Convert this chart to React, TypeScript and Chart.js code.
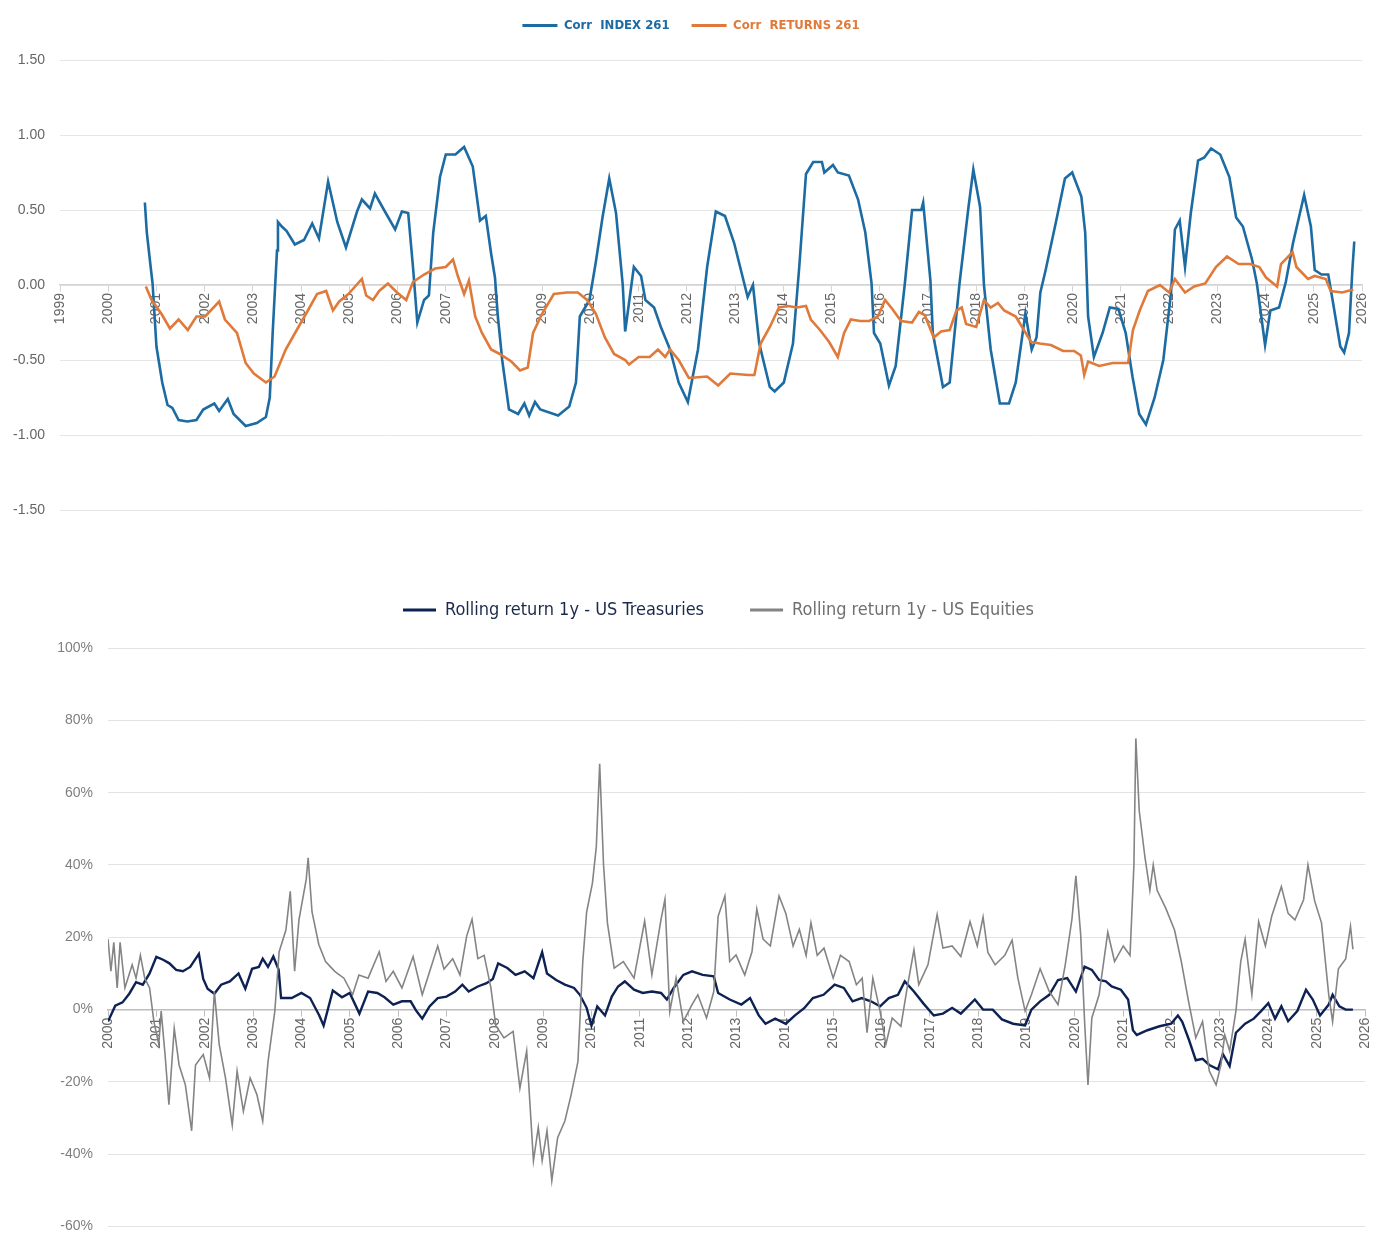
import React, { useEffect, useRef } from "react";
import { Chart, registerables } from "chart.js";
Chart.register(...registerables);

// ---------- Top chart: rolling 261-day correlations ----------
const corrIndexYears = [
  2000.76, 2000.8, 2000.88, 2000.92, 2001.0, 2001.12, 2001.23, 2001.33, 2001.46, 2001.64, 2001.83, 2001.97,
  2002.2, 2002.3, 2002.48, 2002.6, 2002.85, 2003.08, 2003.27, 2003.35, 2003.41, 2003.5, 2003.52, 2003.6,
  2003.7, 2003.87, 2004.06, 2004.23, 2004.37, 2004.56, 2004.75, 2004.93, 2005.16, 2005.26, 2005.43, 2005.53,
  2005.72, 2005.95, 2006.09, 2006.22, 2006.32, 2006.41, 2006.55, 2006.65, 2006.74, 2006.88, 2007.0, 2007.2,
  2007.38, 2007.56, 2007.71, 2007.83, 2007.94, 2008.02, 2008.08, 2008.17, 2008.31, 2008.5, 2008.63, 2008.73,
  2008.85, 2008.96, 2009.33, 2009.56, 2009.7, 2009.78, 2009.98, 2010.11, 2010.25, 2010.39, 2010.53, 2010.67,
  2010.72, 2010.9, 2011.05, 2011.14, 2011.32, 2011.46, 2011.65, 2011.83, 2012.02, 2012.23, 2012.42, 2012.6,
  2012.79, 2012.98, 2013.26, 2013.37, 2013.5, 2013.72, 2013.82, 2014.01, 2014.2, 2014.33, 2014.47, 2014.62,
  2014.8, 2014.85, 2015.03, 2015.13, 2015.36, 2015.55, 2015.7, 2015.83, 2015.88, 2016.01, 2016.19, 2016.33,
  2016.52, 2016.67, 2016.86, 2016.9, 2017.05, 2017.1, 2017.31, 2017.45, 2017.65, 2017.84, 2017.94, 2018.08,
  2018.16, 2018.3, 2018.49, 2018.68, 2018.82, 2019.02, 2019.15, 2019.25, 2019.33, 2019.44, 2019.66, 2019.84,
  2019.99, 2020.18, 2020.26, 2020.32, 2020.44, 2020.62, 2020.77, 2020.95, 2021.1, 2021.24, 2021.38, 2021.52,
  2021.7, 2021.88, 2022.04, 2022.12, 2022.22, 2022.33, 2022.45, 2022.6, 2022.73, 2022.87, 2023.06, 2023.25,
  2023.39, 2023.53, 2023.72, 2023.82, 2023.99, 2024.1, 2024.28, 2024.42, 2024.57, 2024.8, 2024.94, 2025.02,
  2025.16, 2025.3, 2025.39, 2025.55, 2025.63, 2025.73, 2025.8, 2025.84,
];
const corrIndexValues = [
  0.55, 0.35, 0.12, 0.01, -0.41, -0.65, -0.8, -0.82, -0.9, -0.91, -0.9, -0.83,
  -0.79, -0.84, -0.76, -0.86, -0.94, -0.92, -0.88, -0.75, -0.32, 0.23, 0.42, 0.39,
  0.36, 0.27, 0.3, 0.41, 0.31, 0.69, 0.42, 0.25, 0.49, 0.57, 0.51, 0.61,
  0.5, 0.37, 0.49, 0.48, 0.12, -0.25, -0.1, -0.07, 0.35, 0.72, 0.87, 0.87,
  0.92, 0.79, 0.43, 0.46, 0.21, 0.05, -0.21, -0.5, -0.83, -0.86, -0.79, -0.87,
  -0.78, -0.83, -0.87, -0.81, -0.65, -0.21, -0.1, 0.15, 0.45, 0.71, 0.48, 0.0,
  -0.31, 0.12, 0.06, -0.1, -0.15, -0.28, -0.43, -0.65, -0.78, -0.43, 0.12, 0.49,
  0.46, 0.28, -0.08, 0.0, -0.39, -0.68, -0.71, -0.65, -0.39, 0.12, 0.74, 0.82,
  0.82, 0.75, 0.8, 0.75, 0.73, 0.57, 0.35, 0.01, -0.32, -0.39, -0.67, -0.54,
  0.01, 0.5, 0.5, 0.55, 0.03, -0.32, -0.68, -0.65, 0.0, 0.52, 0.77, 0.52,
  0.0, -0.43, -0.79, -0.79, -0.65, -0.19, -0.43, -0.35, -0.05, 0.1, 0.43, 0.71,
  0.75, 0.59, 0.35, -0.21, -0.48, -0.32, -0.15, -0.16, -0.32, -0.61, -0.86, -0.93,
  -0.75, -0.5, -0.05, 0.37, 0.43, 0.12, 0.48, 0.83, 0.85, 0.91, 0.87, 0.72,
  0.45, 0.39, 0.17, 0.01, -0.4, -0.17, -0.15, 0.02, 0.28, 0.6, 0.39, 0.1,
  0.07, 0.07, -0.1, -0.41, -0.45, -0.32, 0.1, 0.29,
];

const corrReturnsYears = [
  2000.78, 2000.9, 2001.1, 2001.28, 2001.46, 2001.65, 2001.83, 2002.01, 2002.3, 2002.42, 2002.67, 2002.85,
  2003.02, 2003.27, 2003.45, 2003.68, 2003.91, 2004.14, 2004.33, 2004.52, 2004.66, 2004.79, 2004.98, 2005.12,
  2005.26, 2005.35, 2005.49, 2005.62, 2005.8, 2005.99, 2006.18, 2006.32, 2006.55, 2006.78, 2007.0, 2007.15,
  2007.25, 2007.38, 2007.48, 2007.61, 2007.75, 2007.94, 2008.12, 2008.36, 2008.54, 2008.7, 2008.81, 2009.0,
  2009.24, 2009.51, 2009.74, 2009.93, 2010.11, 2010.3, 2010.49, 2010.72, 2010.8, 2011.0, 2011.23, 2011.4,
  2011.55, 2011.65, 2011.83, 2012.04, 2012.42, 2012.65, 2012.9, 2013.27, 2013.4, 2013.53, 2013.72, 2013.91,
  2014.1, 2014.28, 2014.47, 2014.57, 2014.76, 2014.95, 2015.13, 2015.26, 2015.4, 2015.59, 2015.78, 2015.96,
  2016.11, 2016.26, 2016.44, 2016.67, 2016.81, 2016.93, 2017.12, 2017.27, 2017.45, 2017.59, 2017.7, 2017.79,
  2018.0, 2018.16, 2018.3, 2018.45, 2018.58, 2018.82, 2018.95, 2019.14, 2019.32, 2019.55, 2019.8, 2020.03,
  2020.17, 2020.24, 2020.32, 2020.55, 2020.83, 2021.15, 2021.25, 2021.39, 2021.56, 2021.81, 2022.0, 2022.12,
  2022.33, 2022.52, 2022.75, 2022.97, 2023.2, 2023.44, 2023.68, 2023.87, 2024.01, 2024.24, 2024.32, 2024.56,
  2024.64, 2024.88, 2025.02, 2025.25, 2025.35, 2025.59, 2025.82,
];
const corrReturnsValues = [
  -0.01, -0.1, -0.19, -0.29, -0.23, -0.3, -0.21, -0.21, -0.11, -0.23, -0.32, -0.52,
  -0.59, -0.65, -0.61, -0.43, -0.3, -0.17, -0.06, -0.04, -0.17, -0.11, -0.06, -0.01,
  0.04, -0.07, -0.1, -0.04, 0.01, -0.05, -0.1, 0.02, 0.07, 0.11, 0.12, 0.17,
  0.06, -0.06, 0.03, -0.21, -0.32, -0.43, -0.46, -0.51, -0.57, -0.55, -0.32, -0.19,
  -0.06, -0.05, -0.05, -0.1, -0.19, -0.35, -0.46, -0.5, -0.53, -0.48, -0.48, -0.43,
  -0.48, -0.43, -0.5, -0.62, -0.61, -0.67, -0.59, -0.6, -0.6, -0.39, -0.28, -0.15,
  -0.14, -0.15, -0.14, -0.23, -0.3, -0.38, -0.48, -0.32, -0.23, -0.24, -0.24, -0.21,
  -0.1, -0.16, -0.24, -0.25, -0.18, -0.2, -0.35, -0.31, -0.3, -0.17, -0.15, -0.26,
  -0.28, -0.1, -0.15, -0.12, -0.17, -0.21, -0.28, -0.38, -0.39, -0.4, -0.44, -0.44,
  -0.47, -0.6, -0.51, -0.54, -0.52, -0.52, -0.3, -0.17, -0.04, 0.0, -0.05, 0.04,
  -0.05, -0.01, 0.01, 0.12, 0.19, 0.14, 0.14, 0.12, 0.05, -0.01, 0.14, 0.22,
  0.12, 0.04, 0.06, 0.04, -0.04, -0.05, -0.03,
];

// ---------- Bottom chart: 1y rolling returns (%) ----------
const treasuryYears = [
  2000.0, 2000.15, 2000.3, 2000.44, 2000.58, 2000.72, 2000.86, 2001.0, 2001.14, 2001.27, 2001.41, 2001.55,
  2001.7, 2001.88, 2001.97, 2002.06, 2002.2, 2002.34, 2002.52, 2002.7, 2002.84, 2002.98, 2003.12, 2003.2,
  2003.31, 2003.42, 2003.53, 2003.58, 2003.8, 2004.0, 2004.18, 2004.37, 2004.46, 2004.65, 2004.84, 2005.0,
  2005.2, 2005.38, 2005.57, 2005.72, 2005.9, 2006.08, 2006.26, 2006.38, 2006.5, 2006.65, 2006.82, 2007.0,
  2007.18, 2007.33, 2007.46, 2007.65, 2007.83, 2007.96, 2008.07, 2008.26, 2008.43, 2008.62, 2008.8, 2008.98,
  2009.08, 2009.27, 2009.45, 2009.64, 2009.76, 2009.9, 2010.0, 2010.12, 2010.28, 2010.42, 2010.55, 2010.69,
  2010.88, 2011.06, 2011.25, 2011.44, 2011.56, 2011.7, 2011.9, 2012.08, 2012.3, 2012.53, 2012.62, 2012.86,
  2013.1, 2013.28, 2013.46, 2013.6, 2013.8, 2014.02, 2014.21, 2014.4, 2014.58, 2014.8, 2015.03, 2015.22,
  2015.4, 2015.59, 2015.78, 2015.97, 2016.15, 2016.34, 2016.48, 2016.67, 2016.86, 2017.08, 2017.27, 2017.46,
  2017.64, 2017.93, 2018.1, 2018.3, 2018.49, 2018.72, 2018.97, 2019.1, 2019.28, 2019.47, 2019.65, 2019.84,
  2020.02, 2020.2, 2020.35, 2020.5, 2020.64, 2020.76, 2020.95, 2021.1, 2021.2, 2021.28, 2021.5, 2021.75,
  2021.99, 2022.13, 2022.22, 2022.36, 2022.5, 2022.64, 2022.78, 2022.96, 2023.06, 2023.2, 2023.33, 2023.52,
  2023.7, 2023.85, 2024.0, 2024.14, 2024.27, 2024.41, 2024.6, 2024.78, 2024.92, 2025.07, 2025.25, 2025.33,
  2025.47, 2025.6, 2025.75,
];
const treasuryValues = [
  -3.3, 1.1, 2.0, 4.4, 7.6, 6.9, 10.0, 14.6, 13.8, 12.8, 11.0, 10.6,
  11.8, 15.4, 8.5, 5.8, 4.4, 6.9, 7.8, 10.0, 5.8, 11.3, 11.8, 14.1,
  11.8, 14.7, 11.0, 3.2, 3.2, 4.6, 3.2, -1.6, -4.4, 5.3, 3.4, 4.6,
  -1.1, 5.0, 4.6, 3.4, 1.4, 2.3, 2.3, -0.4, -2.5, 0.9, 3.2, 3.6,
  5.0, 6.9, 5.0, 6.4, 7.3, 8.5, 12.8, 11.5, 9.6, 10.6, 8.7, 15.9,
  10.0, 8.2, 6.9, 6.0, 4.1, 0.5, -4.4, 0.9, -1.6, 3.6, 6.4, 7.8,
  5.5, 4.6, 5.0, 4.6, 2.8, 6.0, 9.6, 10.6, 9.6, 9.2, 4.6, 2.8,
  1.4, 3.2, -1.6, -3.9, -2.5, -3.9, -1.6, 0.4, 3.2, 4.1, 6.9, 6.0,
  2.3, 3.2, 2.3, 0.9, 3.2, 4.1, 7.8, 5.0, 1.8, -1.6, -1.1, 0.5,
  -1.1, 2.8, 0.0, 0.0, -2.7, -3.9, -4.4, 0.0, 2.3, 4.1, 8.2, 8.7,
  5.0, 11.9, 11.0, 8.2, 7.8, 6.4, 5.5, 2.8, -5.7, -7.0, -5.7, -4.6,
  -3.9, -1.6, -3.4, -8.4, -14.0, -13.6, -15.3, -16.5, -12.3, -15.6, -6.4, -3.9,
  -2.5, -0.4, 1.8, -2.5, 0.9, -3.2, -0.4, 5.5, 2.8, -1.6, 1.4, 4.1,
  0.9, 0.0, 0.0,
];

const equityYears = [
  2000.0, 2000.06, 2000.12, 2000.19, 2000.25, 2000.35, 2000.5, 2000.58, 2000.67, 2000.76, 2000.86, 2000.95,
  2001.05, 2001.1, 2001.18, 2001.26, 2001.37, 2001.47, 2001.6, 2001.73, 2001.81, 2001.97, 2002.1, 2002.2,
  2002.3, 2002.43, 2002.57, 2002.67, 2002.8, 2002.94, 2003.08, 2003.2, 2003.31, 2003.45, 2003.54, 2003.68,
  2003.77, 2003.86, 2003.95, 2004.1, 2004.14, 2004.22, 2004.36, 2004.5, 2004.69, 2004.88, 2005.06, 2005.19,
  2005.38, 2005.61, 2005.75, 2005.9, 2006.08, 2006.31, 2006.5, 2006.63, 2006.82, 2006.95, 2007.13, 2007.28,
  2007.42, 2007.53, 2007.65, 2007.78, 2007.92, 2008.02, 2008.19, 2008.38, 2008.52, 2008.66, 2008.8, 2008.9,
  2008.98, 2009.08, 2009.18, 2009.3, 2009.45, 2009.58, 2009.72, 2009.82, 2009.9, 2010.02, 2010.1, 2010.17,
  2010.25, 2010.33, 2010.47, 2010.66, 2010.88, 2011.1, 2011.25, 2011.44, 2011.52, 2011.62, 2011.75, 2011.9,
  2012.08, 2012.2, 2012.38, 2012.53, 2012.62, 2012.76, 2012.86, 2012.99, 2013.17, 2013.32, 2013.42, 2013.55,
  2013.7, 2013.88, 2014.02, 2014.17, 2014.3, 2014.44, 2014.54, 2014.67, 2014.81, 2015.0, 2015.15, 2015.33,
  2015.48, 2015.6, 2015.7, 2015.82, 2015.97, 2016.09, 2016.22, 2016.4, 2016.53, 2016.67, 2016.77, 2016.96,
  2017.15, 2017.27, 2017.46, 2017.64, 2017.83, 2017.98, 2018.1, 2018.2, 2018.35, 2018.55, 2018.7, 2018.82,
  2018.97, 2019.1, 2019.28, 2019.47, 2019.65, 2019.8, 2019.94, 2020.02, 2020.12, 2020.2, 2020.27, 2020.35,
  2020.5, 2020.68, 2020.82, 2021.0, 2021.14, 2021.22, 2021.26, 2021.33, 2021.45, 2021.55, 2021.62, 2021.7,
  2021.88, 2022.06, 2022.2, 2022.35, 2022.5, 2022.64, 2022.78, 2022.92, 2023.02, 2023.1, 2023.2, 2023.33,
  2023.43, 2023.52, 2023.66, 2023.8, 2023.94, 2024.07, 2024.27, 2024.41, 2024.55, 2024.73, 2024.82, 2024.96,
  2025.1, 2025.25, 2025.33, 2025.45, 2025.6, 2025.7, 2025.75,
];
const equityValues = [
  19.5, 10.6, 18.6, 6.0, 18.6, 6.0, 12.4, 8.7, 15.0, 8.7, 6.0, -3.3,
  -9.6, -0.4, -12.4, -26.3, -5.2, -15.3, -20.8, -33.5, -15.3, -12.4, -18.9, 5.0,
  -9.6, -18.9, -31.9, -17.0, -28.1, -18.9, -23.5, -30.8, -14.4, -0.5, 16.0, 22.0,
  32.7, 10.6, 24.8, 36.0, 42.0, 27.0, 18.0, 13.3, 10.6, 8.7, 4.1, 9.6,
  8.7, 16.0, 7.8, 10.6, 6.0, 14.7, 4.1, 9.6, 17.6, 11.2, 14.1, 9.6,
  20.4, 25.0, 14.1, 15.0, 6.0, -4.4, -7.8, -6.0, -21.7, -11.4, -41.8, -32.6,
  -41.8, -33.5, -47.3, -35.4, -30.8, -23.5, -14.4, 13.2, 27.0, 35.0, 45.0, 68.0,
  40.0, 24.0, 11.5, 13.3, 8.7, 24.5, 9.6, 25.0, 30.5, -0.5, 8.7, -3.3,
  1.4, 4.1, -2.3, 5.0, 25.8, 31.4, 13.3, 15.1, 9.6, 16.0, 27.8, 19.5,
  17.6, 31.4, 26.6, 17.6, 22.2, 15.0, 24.0, 15.0, 17.0, 8.7, 15.0, 13.3,
  6.9, 8.7, -6.4, 8.7, -0.5, -9.6, -2.3, -4.6, 6.0, 16.5, 6.9, 12.4,
  26.3, 17.0, 17.6, 14.7, 24.3, 17.6, 25.6, 15.8, 12.4, 15.0, 19.2, 8.7,
  -0.4, 4.1, 11.3, 5.0, 1.4, 12.4, 25.2, 37.0, 20.6, -3.3, -20.8, -2.3,
  4.1, 21.4, 13.3, 17.6, 15.0, 40.0, 75.0, 55.0, 42.0, 33.0, 40.0, 33.0,
  28.0, 22.0, 13.3, 2.3, -7.8, -3.3, -17.0, -20.8, -15.3, -7.0, -11.4, -0.4,
  13.3, 19.5, 4.1, 24.3, 17.6, 25.8, 34.0, 26.6, 24.8, 30.4, 40.0, 30.0,
  24.0, 4.1, -3.3, 11.3, 14.0, 23.0, 16.7,
];

const topLabels = ["Corr  INDEX 261", "Corr  RETURNS 261"];
const bottomLabels = ["Rolling return 1y - US Treasuries", "Rolling return 1y - US Equities"];

const BLUE = "#1c6ba3";
const ORANGE = "#e07a3a";
const NAVY = "#0d2253";
const GRAY = "#848484";
const TICK = "#666666";

function toPoints(xs: number[], ys: number[]) {
  return xs.map((x, i) => ({ x, y: ys[i] }));
}

// Fixes the legend block height and nudges it after layout
function legendTuner(h: number, dx: number, dy: number) {
  return {
    id: "legendTuner",
    beforeInit(chart: any) {
      const orig = chart.legend.fit;
      chart.legend.fit = function () {
        orig.bind(chart.legend)();
        this.height = h;
      };
    },
    afterLayout(chart: any) {
      if (chart.legend) {
        chart.legend.left += dx;
        chart.legend.right += dx;
        chart.legend.top += dy;
        chart.legend.bottom += dy;
      }
    },
  };
}

function makeLegendLabels(names: string[], colors: string[], textColors: string[], lw: number[]) {
  return () =>
    names.map((t, i) => ({
      text: t,
      fillStyle: colors[i],
      strokeStyle: colors[i],
      fontColor: textColors[i],
      lineWidth: 0,
      hidden: false,
      datasetIndex: i,
      boxHeight: lw[i],
    }));
}

export default function App() {
  const topRef = useRef<HTMLCanvasElement>(null);
  const botRef = useRef<HTMLCanvasElement>(null);

  useEffect(() => {
    const fam = "'Liberation Sans', Arial, sans-serif";
    const narrow = "'Liberation Sans Narrow', 'DejaVu Sans Condensed', 'Liberation Sans', Arial, sans-serif";

    const c1 = new Chart(topRef.current!, {
      type: "line",
      data: {
        datasets: [
          {
            label: topLabels[0],
            data: toPoints(corrIndexYears, corrIndexValues),
            borderColor: BLUE,
            backgroundColor: BLUE,
            borderWidth: 2.6,
            pointRadius: 0,
            tension: 0,
            order: 1,
          },
          {
            label: topLabels[1],
            data: toPoints(corrReturnsYears, corrReturnsValues),
            borderColor: ORANGE,
            backgroundColor: ORANGE,
            borderWidth: 2.6,
            pointRadius: 0,
            tension: 0,
            order: 0,
          },
        ],
      },
      options: {
        animation: false,
        responsive: true,
        maintainAspectRatio: false,
        layout: { padding: { left: 0, right: 24, top: 0, bottom: 35 } },
        plugins: {
          tooltip: { enabled: false },
          legend: {
            position: "top",
            labels: {
              boxWidth: 35,
              boxHeight: 3,
              padding: 22,
              font: { family: narrow, size: 13, weight: "bold" },
              generateLabels: makeLegendLabels(topLabels, [BLUE, ORANGE], [BLUE, ORANGE], [3, 3]) as any,
            },
          },
        },
        scales: {
          x: {
            type: "linear",
            min: 1999,
            max: 2026,
            position: { y: 0 } as any,
            grid: { drawOnChartArea: false, drawTicks: true, tickLength: 6, color: "#d4d4d4" },
            border: { display: true, color: "#d4d4d4", width: 1.5 },
            ticks: {
              stepSize: 1,
              autoSkip: false,
              minRotation: 90,
              maxRotation: 90,
              padding: 2,
              color: TICK,
              font: { family: fam, size: 14 },
              callback: (v: any) => String(v),
            },
          },
          y: {
            min: -1.5,
            max: 1.5,
            afterFit: (s: any) => {
              s.width = 60;
            },
            grid: { color: "#e6e6e6", drawTicks: false },
            border: { display: false },
            ticks: {
              stepSize: 0.5,
              padding: 15,
              color: TICK,
              font: { family: fam, size: 14 },
              callback: (v: any) => Number(v).toFixed(2),
            },
          },
        },
      },
      plugins: [legendTuner(60, 10, -3)],
    });

    const c2 = new Chart(botRef.current!, {
      type: "line",
      data: {
        datasets: [
          {
            label: bottomLabels[0],
            data: toPoints(treasuryYears, treasuryValues),
            borderColor: NAVY,
            backgroundColor: NAVY,
            borderWidth: 2.4,
            pointRadius: 0,
            tension: 0,
            order: 1,
          },
          {
            label: bottomLabels[1],
            data: toPoints(equityYears, equityValues),
            borderColor: GRAY,
            backgroundColor: GRAY,
            borderWidth: 1.6,
            pointRadius: 0,
            tension: 0,
            order: 0,
          },
        ],
      },
      options: {
        animation: false,
        responsive: true,
        maintainAspectRatio: false,
        layout: { padding: { left: 0, right: 21, top: 8, bottom: 20 } },
        plugins: {
          tooltip: { enabled: false },
          legend: {
            position: "top",
            labels: {
              boxWidth: 33,
              boxHeight: 3,
              padding: 46,
              font: { family: narrow, size: 18 },
              generateLabels: makeLegendLabels(bottomLabels, [NAVY, GRAY], ["#1b2a4a", "#707070"], [3, 2]) as any,
            },
          },
        },
        scales: {
          x: {
            type: "linear",
            min: 2000,
            max: 2026,
            position: { y: 0 } as any,
            grid: { drawOnChartArea: false, drawTicks: true, tickLength: 6, color: "#bdbdbd" },
            border: { display: true, color: "#bdbdbd", width: 1.5 },
            ticks: {
              stepSize: 1,
              autoSkip: false,
              minRotation: 90,
              maxRotation: 90,
              padding: 2,
              color: TICK,
              font: { family: fam, size: 14 },
              callback: (v: any) => String(v),
            },
          },
          y: {
            min: -60,
            max: 100,
            afterFit: (s: any) => {
              s.width = 108;
            },
            grid: { color: "#e3e3e3", drawTicks: false },
            border: { display: false },
            ticks: {
              stepSize: 20,
              padding: 15,
              color: "#7f7f7f",
              font: { family: fam, size: 14 },
              callback: (v: any) => `${v}%`,
            },
          },
        },
      },
      plugins: [legendTuner(95, 36, 2)],
    });

    return () => {
      c1.destroy();
      c2.destroy();
    };
  }, []);

  return (
    <div style={{ position: "absolute", left: 0, top: 0, width: 1386, height: 1250, background: "#ffffff" }}>
      <div style={{ position: "absolute", left: 0, top: 0, width: 1386, height: 545 }}>
        <canvas ref={topRef} />
      </div>
      <div style={{ position: "absolute", left: 0, top: 545, width: 1386, height: 705 }}>
        <canvas ref={botRef} />
      </div>
    </div>
  );
}
